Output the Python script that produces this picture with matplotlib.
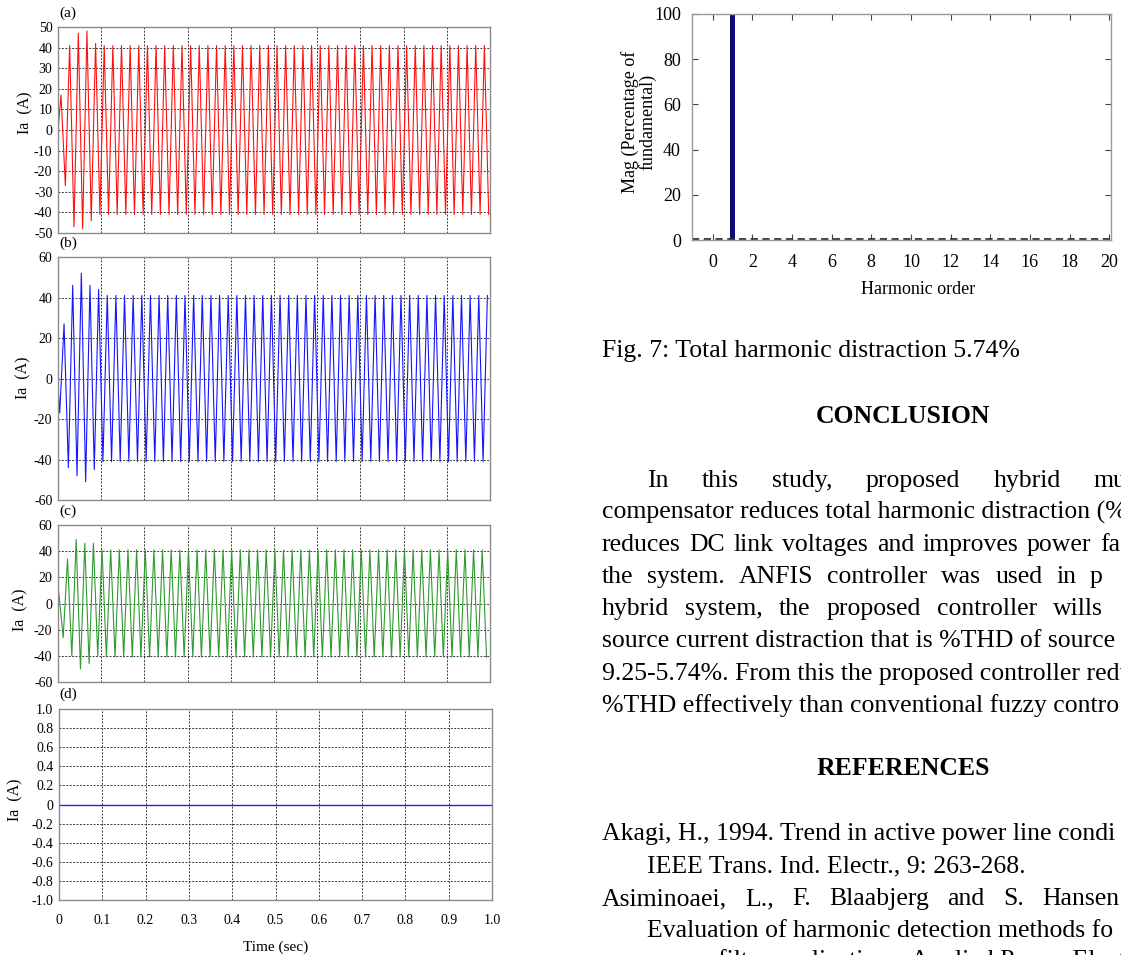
import numpy as np
import matplotlib.pyplot as plt

plt.rcParams['font.family'] = ['Liberation Serif', 'DejaVu Serif']
plt.rcParams['axes.unicode_minus'] = False

W, H = 1121, 955

# source current traces: one extreme value per half cycle (50 Hz -> every 0.01 s)
ia_a_start = 0.0
ia_a_t0 = 0.007
ia_a_transient = [17, -27, 41, -47, 47, -48, 48, -44, 42, -41]
ia_a_steady = [41, -41]

ia_b_start = -3.0
ia_b_t0 = 0.004
ia_b_transient = [-17, 27, -44, 46, -48, 52, -51, 46, -45, 44]
ia_b_steady = [-41, 41]

ia_c_start = 4.0
ia_c_t0 = 0.002
ia_c_transient = [8, -26, 34, -40, 49, -50, 46, -46, 46, -40]
ia_c_steady = [41, -41]

ia_d_time = [0.0, 1.0]
ia_d_vals = [0.0, 0.0]

# harmonic spectrum (Fig. 7)
harm_order = list(range(21))
harm_mag = [0, 100, 0, 0, 0, 0, 0, 0, 0, 0, 0, 0, 0, 0, 0, 0, 0, 0, 0, 0, 0]

time_ticks = [0, 0.1, 0.2, 0.3, 0.4, 0.5, 0.6, 0.7, 0.8, 0.9, 1.0]
time_labels = ['0', '0.1', '0.2', '0.3', '0.4', '0.5', '0.6', '0.7', '0.8', '0.9', '1.0']
d_ticks = [1.0, 0.8, 0.6, 0.4, 0.2, 0, -0.2, -0.4, -0.6, -0.8, -1.0]
d_labels = ['1.0', '0.8', '0.6', '0.4', '0.2', '0', '-0.2', '-0.4', '-0.6', '-0.8', '-1.0']


def trace(start, t0, transient, steady):
    peaks = transient + steady * 45
    t = t0 + 0.01 * np.arange(len(peaks))
    keep = t <= 1.0
    return np.r_[0.0, t[keep]], np.r_[start, np.array(peaks, float)[keep]]


def box(left, top, right, bottom):
    return [left / W, 1 - bottom / H, (right - left) / W, (bottom - top) / H]


def style(ax, yticks, ylim):
    ax.set_xlim(0, 1)
    ax.set_ylim(*ylim)
    ax.set_xticks(time_ticks)
    ax.set_yticks(yticks)
    ax.grid(True, color='#3a3a3a', linestyle=(0, (2, 1.5)), linewidth=0.7)
    ax.tick_params(length=0, labelsize=10, pad=4)
    for s in ax.spines.values():
        s.set_color('#8a8a8a')
        s.set_linewidth(1.0)


fig = plt.figure(figsize=(W / 100, H / 100), dpi=100)

panels = [
    (box(58, 27, 490, 233), trace(ia_a_start, ia_a_t0, ia_a_transient, ia_a_steady),
     '#ff1010', list(range(-50, 51, 10)), (-50, 50)),
    (box(58, 257, 490, 500), trace(ia_b_start, ia_b_t0, ia_b_transient, ia_b_steady),
     '#1515ff', list(range(-60, 61, 20)), (-60, 60)),
    (box(58, 525, 490, 682), trace(ia_c_start, ia_c_t0, ia_c_transient, ia_c_steady),
     '#2f9a2f', list(range(-60, 61, 20)), (-60, 60)),
]
for rect, (t, v), col, yt, yl in panels:
    ax = fig.add_axes(rect)
    ax.plot(t, v, color=col, linewidth=0.8)
    style(ax, yt, yl)
    ax.set_xticklabels([])

axd = fig.add_axes(box(59, 709, 492, 900))
axd.plot(ia_d_time, ia_d_vals, color='#2020ff', linewidth=1.0)
style(axd, d_ticks, (-1, 1))
axd.set_yticklabels(d_labels)
axd.set_xticklabels(time_labels)
axd.tick_params(axis='x', pad=10)

for lbl, y in [('(a)', 13), ('(b)', 243), ('(c)', 511), ('(d)', 694)]:
    fig.text(59 / W, 1 - y / H, lbl, fontsize=11, va='center', ha='left')
for x, y in [(25, 113), (23, 378), (20, 610), (15, 800)]:
    fig.text(x / W, 1 - y / H, 'Ia  (A)', fontsize=11.5, rotation=90, va='center', ha='center')
fig.text(276 / W, 1 - 947 / H, 'Time (sec)', fontsize=11, va='center', ha='center')

# harmonic spectrum
axh = fig.add_axes(box(692, 14, 1111, 240))
axh.bar(harm_order, harm_mag, width=0.22, color='#0c0c78')
axh.axhline(0.4, color='#303030', linewidth=1.3, dashes=(4, 2.5))
axh.set_xlim(-1.04, 20.09)
axh.set_ylim(0, 100)
axh.set_xticks(list(range(0, 21, 2)))
axh.set_yticks(list(range(0, 101, 20)))
axh.tick_params(direction='in', top=True, right=True, length=4, labelsize=13,
                color='#444444')
axh.tick_params(axis='x', pad=10)
axh.tick_params(axis='y', pad=8)
for s in axh.spines.values():
    s.set_color('#9a9a9a')
    s.set_linewidth(1.0)
fig.text(639 / W, 1 - 122 / H, 'Mag (Percentage of\nfundamental)', fontsize=13,
         rotation=90, va='center', ha='center', linespacing=0.95)
fig.text(918 / W, 1 - 290 / H, 'Harmonic order', fontsize=13, va='center', ha='center')

# page text beside the figure
body_fs = 18.5
renderer = fig.canvas.get_renderer()


def line(x, y, s, **kw):
    return fig.text(x / W, 1 - y / H, s, fontsize=body_fs, va='baseline', ha='left', **kw)


def justified(y, x0, x_last, ws):
    # spread the words so that the first starts at x0 and the last at x_last
    arts = [line(x0, y, w) for w in ws]
    widths = [a.get_window_extent(renderer).width for a in arts]
    gap = (x_last - x0 - sum(widths[:-1])) / (len(ws) - 1)
    x = x0
    for a, wd in zip(arts, widths):
        a.set_x(x / W)
        x += wd + gap


line(602, 357, 'Fig. 7: Total harmonic distraction 5.74%')
fig.text(903 / W, 1 - 423 / H, 'CONCLUSION', fontsize=body_fs, fontweight='bold',
         va='baseline', ha='center')
justified(487, 647, 1094, ['In', 'this', 'study,', 'proposed', 'hybrid', 'mu'])
line(602, 519, 'compensator reduces total harmonic distraction (%')
justified(551, 602, 1100, ['reduces', 'DC', 'link', 'voltages', 'and', 'improves',
                           'power', 'fa'])
justified(583, 602, 1090, ['the', 'system.', 'ANFIS', 'controller', 'was', 'used',
                           'in', 'p'])
justified(615, 602, 1053, ['hybrid', 'system,', 'the', 'proposed', 'controller', 'wills'])
line(602, 647, 'source current distraction that is %THD of source')
line(602, 680, '9.25-5.74%. From this the proposed controller redu')
line(602, 712, '%THD effectively than conventional fuzzy contro')
fig.text(903 / W, 1 - 775 / H, 'REFERENCES', fontsize=body_fs, fontweight='bold',
         va='baseline', ha='center')
line(602, 840, 'Akagi, H., 1994. Trend in active power line condi')
line(647, 872, 'IEEE Trans. Ind. Electr., 9: 263-268.')
justified(905, 602, 1042, ['Asiminoaei,', 'L.,', 'F.', 'Blaabjerg', 'and', 'S.', 'Hansen'])
line(647, 937, 'Evaluation of harmonic detection methods fo')
line(647, 967, 'power filter applications. Applied Power Electr')

fig.savefig('out.png', dpi=100)
